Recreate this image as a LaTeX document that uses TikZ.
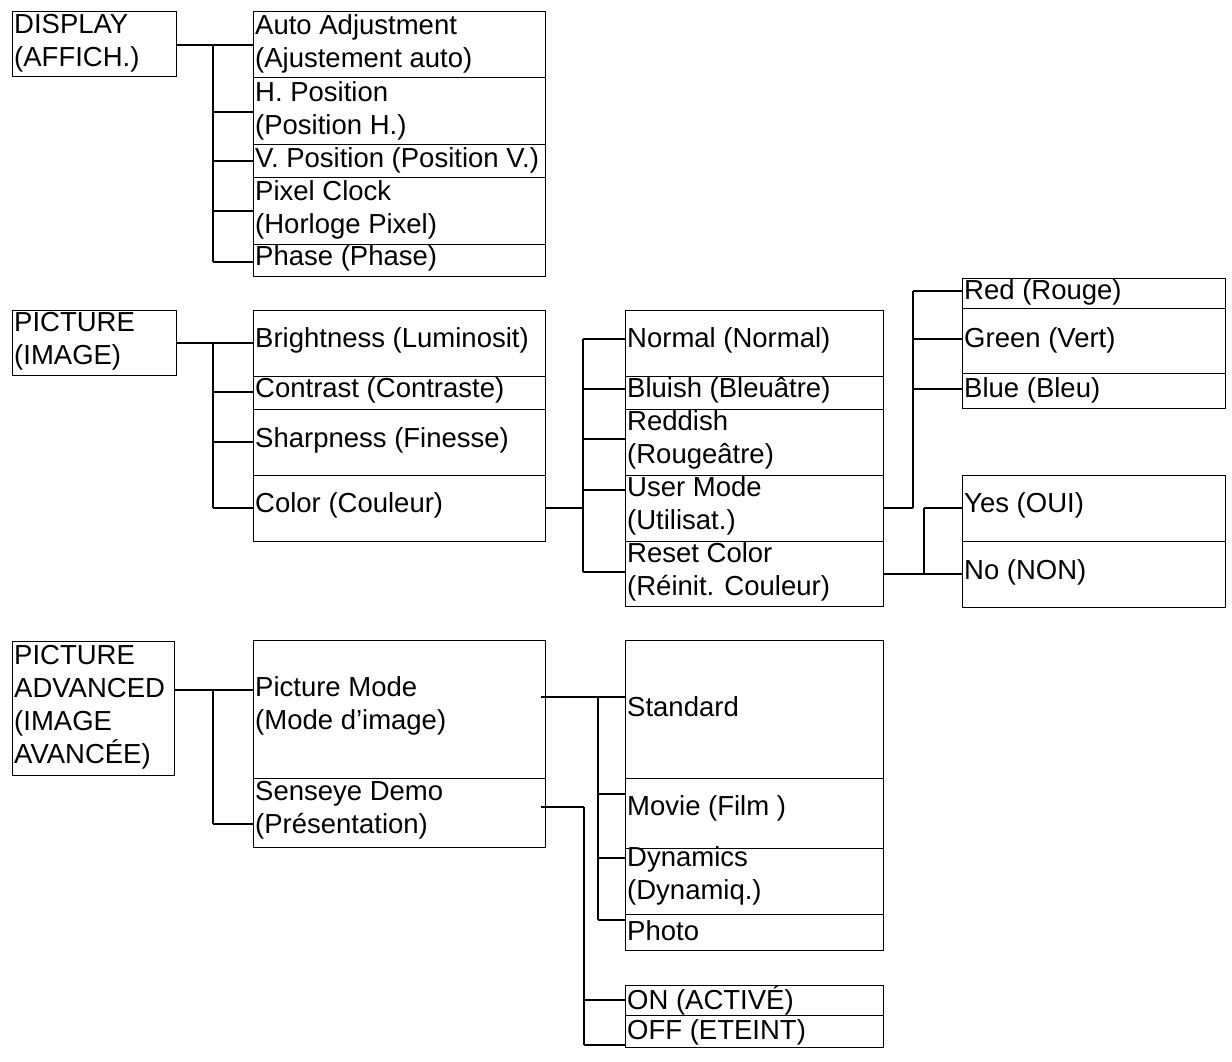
\documentclass[tikz,border=0pt]{standalone}
\usepackage{fontspec}
\setmainfont{Liberation Sans}
\begin{document}
\begin{tikzpicture}[x=1pt,y=-1pt,
  txt/.style={anchor=west,inner sep=0pt,align=left,font=\fontsize{27.5}{33}\selectfont},
  ln/.style={line width=2pt},
  bx/.style={line width=1pt}]
\useasboundingbox (0,0) rectangle (1232,1062);
\newcommand{\bx}[7]{\draw[bx] (#2,#3) rectangle (#4,#5); \node[txt] (#1) at (#2+2,#6) {#7};}
% DISPLAY
\bx{disp}{12}{12}{176}{77}{43}{DISPLAY\\(AFFICH.)}
\bx{auto}{253}{12}{545}{78}{44}{Auto Adjustment\\(Ajustement auto)}
\bx{hpos}{253}{78}{545}{145}{111}{H. Position\\(Position H.)}
\bx{vpos}{253}{145}{545}{178}{160}{V. Position (Position V.)}
\bx{pix}{253}{178}{545}{244}{210}{Pixel Clock\\(Horloge Pixel)}
\bx{phase}{253}{244}{545}{276}{258}{Phase (Phase)}
\draw[ln] (176,45) -- (253,45);
\draw[ln] (213,45) -- (213,262);
\foreach \y in {112,161,211,262} \draw[ln] (213,\y) -- (253,\y);
% PICTURE
\bx{pic}{12}{310}{176}{375}{341}{PICTURE\\(IMAGE)}
\bx{bri}{253}{310}{545}{376}{340}{Brightness (Luminosit)}
\bx{con}{253}{376}{545}{409}{390}{Contrast (Contraste)}
\bx{sha}{253}{409}{545}{475}{440}{Sharpness (Finesse)}
\bx{col}{253}{475}{545}{541}{505}{Color (Couleur)}
\draw[ln] (176,343) -- (253,343);
\draw[ln] (213,343) -- (213,508);
\foreach \y in {392,442,508} \draw[ln] (213,\y) -- (253,\y);
\bx{nor}{625}{310}{883}{376}{340}{Normal (Normal)}
\bx{blu}{625}{376}{883}{409}{390}{Bluish (Bleuâtre)}
\bx{red}{625}{409}{883}{475}{440}{Reddish\\(Rougeâtre)}
\bx{usr}{625}{475}{883}{541}{506}{User Mode\\(Utilisat.)}
\bx{rst}{625}{541}{883}{606}{572}{Reset Color\\(Réinit. Couleur)}
\draw[ln] (545,508) -- (583,508);
\draw[ln] (583,339) -- (583,572);
\foreach \y in {339,389,439,490,572} \draw[ln] (583,\y) -- (625,\y);
\bx{rr}{962}{278}{1225}{308}{292}{Red (Rouge)}
\bx{gg}{962}{308}{1225}{373}{340}{Green (Vert)}
\bx{bb}{962}{373}{1225}{408}{390}{Blue (Bleu)}
\draw[ln] (883,508) -- (913,508);
\draw[ln] (913,291) -- (913,508);
\foreach \y in {291,339,389} \draw[ln] (913,\y) -- (962,\y);
\bx{yes}{962}{475}{1225}{541}{505}{Yes (OUI)}
\bx{no}{962}{541}{1225}{607}{572}{No (NON)}
\draw[ln] (883,574) -- (962,574);
\draw[ln] (924,508) -- (924,574);
\draw[ln] (924,508) -- (962,508);
% PICTURE ADVANCED
\bx{adv}{12}{641}{174}{775}{707}{PICTURE\\ADVANCED\\(IMAGE\\AVANCÉE)}
\bx{pm}{253}{640}{545}{778}{706}{Picture Mode\\(Mode d’image)}
\bx{sd}{253}{778}{545}{847}{810}{Senseye Demo\\(Présentation)}
\draw[ln] (174,690) -- (253,690);
\draw[ln] (213,690) -- (213,824);
\draw[ln] (213,824) -- (253,824);
\bx{std}{625}{640}{883}{778}{707}{Standard}
\bx{mov}{625}{778}{883}{848}{808}{Movie (Film )}
\bx{dyn}{625}{848}{883}{914}{876}{Dynamics\\(Dynamiq.)}
\bx{pho}{625}{914}{883}{950}{931}{Photo}
\draw[ln] (541,697) -- (625,697);
\draw[ln] (598,697) -- (598,920);
\foreach \y in {794,858,920} \draw[ln] (598,\y) -- (625,\y);
\bx{on}{625}{985}{883}{1015}{1000}{ON (ACTIVÉ)}
\bx{off}{625}{1015}{883}{1047}{1032}{OFF (ETEINT)}
\draw[ln] (541,807) -- (584,807);
\draw[ln] (584,807) -- (584,1045);
\foreach \y in {1000,1045} \draw[ln] (584,\y) -- (625,\y);
\end{tikzpicture}
\end{document}
